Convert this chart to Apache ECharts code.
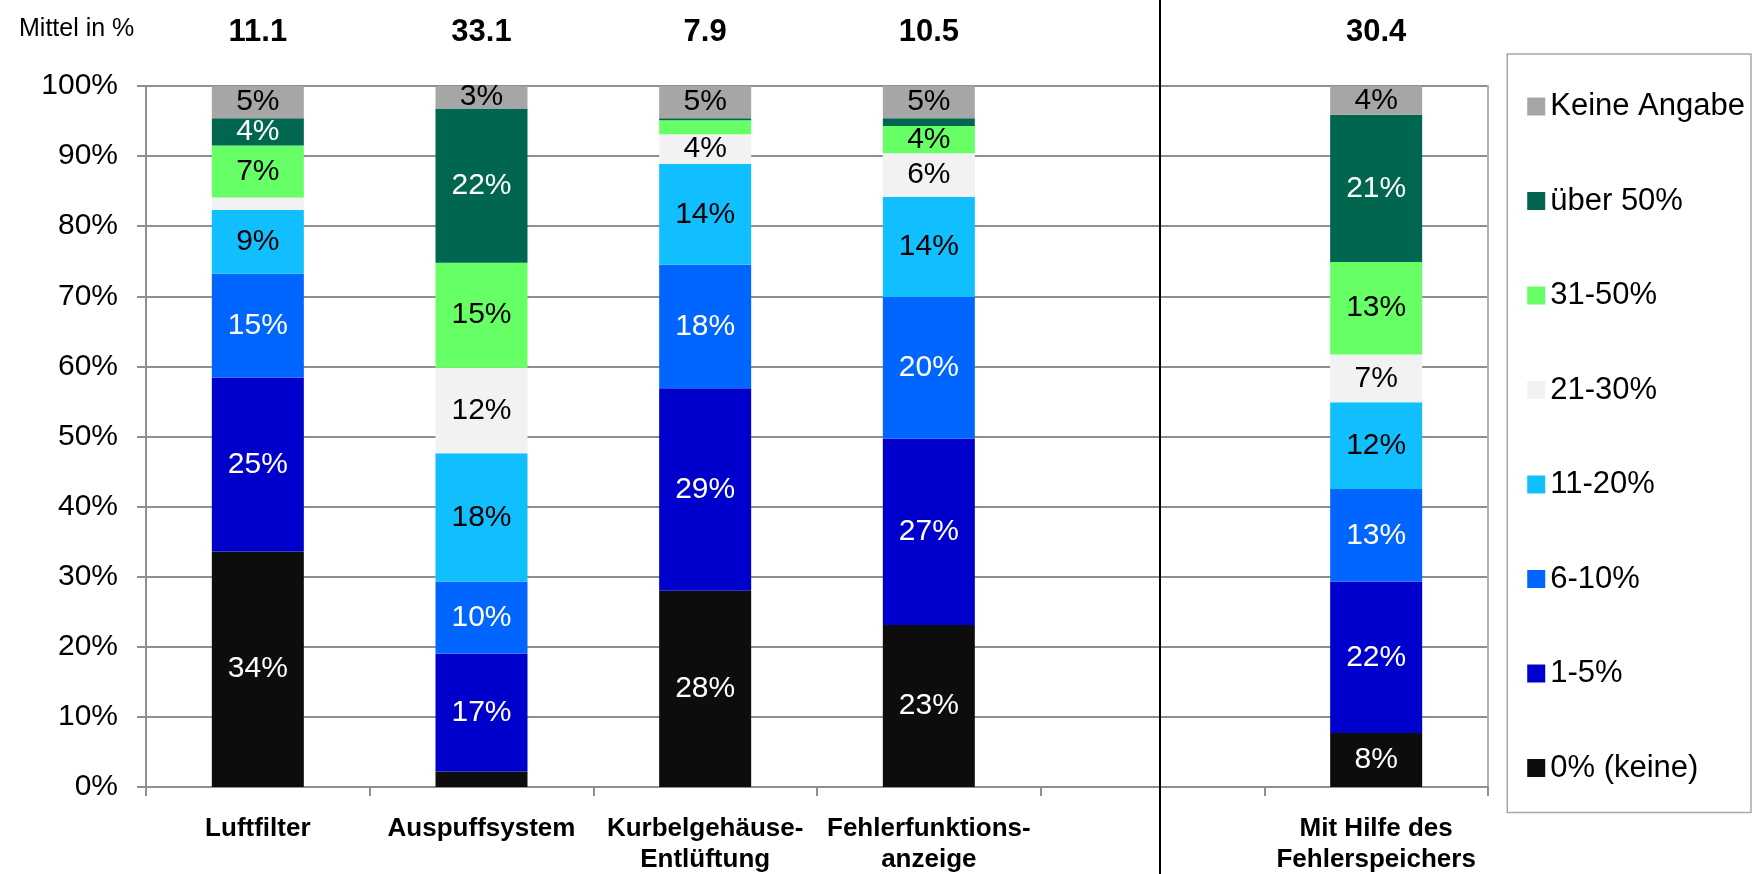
<!DOCTYPE html>
<html>
<head>
<meta charset="utf-8">
<title>Mittel in %</title>
<script src="https://cdn.jsdelivr.net/npm/echarts@6/dist/echarts.min.js"></script>
<style>
html, body { margin: 0; padding: 0; background: #fff; }
#chart { width: 1760px; height: 874px; }
</style>
</head>
<body>
<div id="chart"></div>
<script>
// Kategorien (die leere Spalte trennt den Fehlerspeicher ab)
const categories = ['Luftfilter', 'Auspuffsystem', 'Kurbelgehäuse-\nEntlüftung', 'Fehlerfunktions-\nanzeige', '', 'Mit Hilfe des\nFehlerspeichers'];
const means = ['11.1', '33.1', '7.9', '10.5', '', '30.4'];

// Anteile in %, von unten nach oben gestapelt
const keine0      = [33.6, 2.2, 28.0, 23.1, null, 7.7];
const p1to5       = [24.8, 16.8, 28.9, 26.6, null, 21.6];
const p6to10      = [14.8, 10.3, 17.6, 20.2, null, 13.2];
const p11to20     = [9.1, 18.3, 14.4, 14.3, null, 12.4];
const p21to30     = [1.8, 12.2, 4.2, 6.2, null, 6.8];
const p31to50     = [7.4, 15.0, 2.0, 3.9, null, 13.2];
const ueber50     = [3.9, 22.0, 0.3, 1.1, null, 21.0];
const keineAngabe = [4.6, 3.2, 4.6, 4.6, null, 4.1];

const seriesNames = ['0% (keine)', '1-5%', '6-10%', '11-20%', '21-30%', '31-50%', 'über 50%', 'Keine Angabe'];
const seriesData = [keine0, p1to5, p6to10, p11to20, p21to30, p31to50, ueber50, keineAngabe];
const colors = ['#0d0d0d', '#0000cc', '#0066ff', '#11bfff', '#f2f2f2', '#66ff66', '#00664f', '#a6a6a6'];
const labelColors = ['#fff', '#fff', '#fff', '#000', '#000', '#000', '#fff', '#000'];

const font = '"Liberation Sans", Arial, Helvetica, sans-serif';
const gridColor = '#8f8f8f';

const chart = echarts.init(document.getElementById('chart'));

const series = seriesNames.map(function (name, i) {
  return {
    name: name,
    type: 'bar',
    stack: 'total',
    barWidth: 92,
    data: seriesData[i],
    itemStyle: { color: colors[i] },
    label: {
      show: true,
      position: 'inside',
      color: labelColors[i],
      fontFamily: font,
      fontSize: 30,
      formatter: function (p) {
        if (p.value == null || p.value < 2.5) return '';
        return Math.round(p.value) + '%';
      }
    },
    emphasis: { disabled: true }
  };
});

const option = {
  animation: false,
  textStyle: { fontFamily: font },
  title: {
    text: 'Mittel in %',
    left: 14,
    top: 12,
    textStyle: { fontFamily: font, fontSize: 25, fontWeight: 'normal', color: '#000' }
  },
  legend: {
    orient: 'vertical',
    right: 9,
    top: 54,
    data: seriesNames.slice().reverse(),
    icon: 'rect',
    itemWidth: 18,
    itemHeight: 18,
    itemGap: 63.5,
    padding: [37, 6, 29, 20],
    borderColor: '#a8a8a8',
    borderWidth: 1.5,
    textStyle: { fontFamily: font, fontSize: 31, color: '#000' },
    selectedMode: false
  },
  grid: { left: 146, top: 86, right: 272, bottom: 87, outerBoundsMode: 'none' },
  xAxis: [
    {
      type: 'category',
      data: categories,
      axisLine: { lineStyle: { color: gridColor, width: 2 } },
      axisTick: { show: true, length: 9, lineStyle: { color: gridColor, width: 2 } },
      axisLabel: {
        interval: 0,
        margin: 26,
        color: '#000',
        fontFamily: font,
        fontSize: 26,
        fontWeight: 'bold',
        lineHeight: 31
      }
    },
    {
      type: 'category',
      position: 'top',
      data: means,
      axisLine: { show: false },
      axisTick: { show: false },
      axisLabel: {
        interval: 0,
        margin: 38,
        color: '#000',
        fontFamily: font,
        fontSize: 31,
        fontWeight: 'bold'
      }
    }
  ],
  yAxis: [
    {
      type: 'value',
      min: 0,
      max: 100,
      interval: 10,
      axisLine: { show: true, lineStyle: { color: gridColor, width: 2 } },
      axisTick: { show: true, length: 9, lineStyle: { color: gridColor, width: 2 } },
      splitLine: { lineStyle: { color: gridColor, width: 2 } },
      axisLabel: {
        margin: 28,
        color: '#000',
        fontFamily: font,
        fontSize: 30,
        formatter: '{value}%'
      }
    },
    {
      // rechter Rahmen der Zeichenfläche
      type: 'value',
      position: 'right',
      min: 0,
      max: 100,
      interval: 10,
      axisLine: { show: true, lineStyle: { color: '#b0b0b0', width: 2 } },
      axisTick: { show: false },
      axisLabel: { show: false },
      splitLine: { show: false }
    }
  ],
  series: series
};

chart.setOption(option);

// schwarze Trennlinie in der leeren Spalte, über die ganze Höhe
const sepX = Math.round(chart.convertToPixel({ xAxisIndex: 0 }, 4)) + 7;
chart.setOption({
  graphic: [{
    type: 'line',
    shape: { x1: sepX, y1: 0, x2: sepX, y2: 874 },
    style: { stroke: '#000', lineWidth: 2 },
    z: 100
  }]
});
</script>
</body>
</html>
